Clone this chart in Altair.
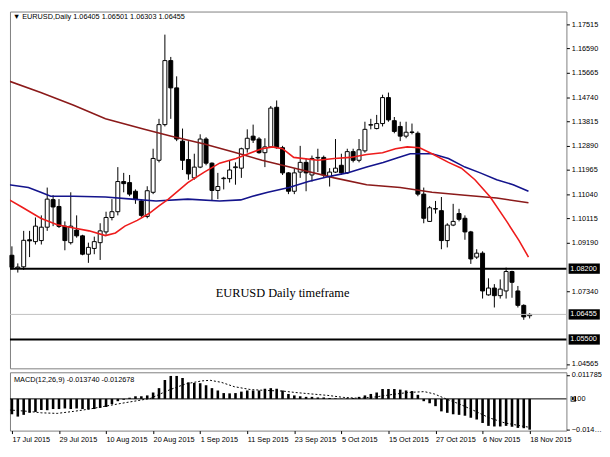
import json
import altair as alt
import pandas as pd

# ---------------- data ----------------
opens = [1.0871, 1.0822, 1.0827, 1.0930, 1.0923, 1.0927, 1.0978, 1.1083, 1.1057, 1.0982,
         1.0919, 1.0967, 1.0945, 1.0875, 1.0897, 1.0919, 1.0960, 1.1015, 1.1037, 1.1152,
         1.1148, 1.1115, 1.1078, 1.1019, 1.1111, 1.1233, 1.1369, 1.1613, 1.1509, 1.1306,
         1.1236, 1.1166, 1.1207, 1.1314, 1.1222, 1.1118, 1.1163, 1.1163, 1.1205, 1.1203,
         1.1277, 1.1325, 1.1314, 1.1262, 1.1284, 1.1435, 1.1281, 1.1185, 1.1115, 1.1188,
         1.1225, 1.1177, 1.1242, 1.1244, 1.1170, 1.1188, 1.1214, 1.1185, 1.1266, 1.1233,
         1.1269, 1.1367, 1.1354, 1.1373, 1.1472, 1.1384, 1.1362, 1.1325, 1.1339, 1.1336,
         1.1104, 1.1000, 1.1047, 1.1041, 1.0927, 1.0986, 1.1030, 1.1012, 1.0960, 1.0864,
         1.0879, 1.0720, 1.0746, 1.0717, 1.0735, 1.0809, 1.0735, 1.0680, 1.06405]
highs = [1.0905, 1.0840, 1.0964, 1.0964, 1.1015, 1.1023, 1.1129, 1.1100, 1.1085, 1.1000,
         1.1111, 1.1023, 1.0949, 1.0919, 1.0942, 1.0993, 1.1037, 1.1085, 1.1207, 1.1185,
         1.1177, 1.1122, 1.1085, 1.1134, 1.1277, 1.1391, 1.1712, 1.1627, 1.1553, 1.1354,
         1.1306, 1.1258, 1.1332, 1.1321, 1.1225, 1.1185, 1.1170, 1.1233, 1.1225, 1.1281,
         1.1351, 1.1369, 1.1321, 1.1317, 1.1440, 1.1461, 1.1288, 1.1188, 1.1203, 1.1288,
         1.1240, 1.1251, 1.1277, 1.1251, 1.1203, 1.1314, 1.1258, 1.1277, 1.1277, 1.1314,
         1.1380, 1.1391, 1.1406, 1.1483, 1.1491, 1.1398, 1.1380, 1.1380, 1.1373, 1.1343,
         1.1129, 1.1059, 1.1078, 1.1093, 1.0993, 1.1067, 1.1048, 1.1023, 1.0964, 1.0894,
         1.0886, 1.0783, 1.0761, 1.0779, 1.0824, 1.0812, 1.0754, 1.0684, 1.06501]
lows = [1.0816, 1.0805, 1.0815, 1.0864, 1.0912, 1.0912, 1.0964, 1.0982, 1.0975, 1.0890,
        1.0912, 1.0938, 1.0871, 1.0842, 1.0875, 1.0853, 1.0949, 1.1004, 1.1023, 1.1111,
        1.1096, 1.1067, 1.1015, 1.1012, 1.1104, 1.1225, 1.1362, 1.1391, 1.1306, 1.1196,
        1.1159, 1.1159, 1.1203, 1.1214, 1.1078, 1.1085, 1.1122, 1.1148, 1.1140, 1.1166,
        1.1262, 1.1299, 1.1258, 1.1207, 1.1281, 1.1277, 1.1177, 1.1104, 1.1104, 1.1166,
        1.1115, 1.1152, 1.1188, 1.1166, 1.1133, 1.1185, 1.1177, 1.1181, 1.1225, 1.1225,
        1.1262, 1.1351, 1.1351, 1.1362, 1.1380, 1.1336, 1.1306, 1.1317, 1.1332, 1.1096,
        1.0993, 1.0998, 1.1030, 1.0894, 1.0901, 1.0982, 1.1000, 1.0930, 1.0838, 1.0857,
        1.0706, 1.0717, 1.0672, 1.0706, 1.0706, 1.0709, 1.0672, 1.0625, 1.06303]
closes = [1.0825, 1.0826, 1.0928, 1.0926, 1.0982, 1.0978, 1.1085, 1.1055, 1.0981, 1.0927,
          1.0982, 1.0945, 1.0875, 1.0901, 1.0923, 1.0964, 1.1015, 1.1037, 1.1152, 1.1144,
          1.1104, 1.1085, 1.1023, 1.1117, 1.1240, 1.1369, 1.1613, 1.1509, 1.1314, 1.1233,
          1.1181, 1.1207, 1.1314, 1.1222, 1.1118, 1.1133, 1.1165, 1.1196, 1.1208, 1.1277,
          1.1317, 1.1310, 1.1262, 1.1284, 1.1432, 1.1281, 1.1185, 1.1115, 1.1185, 1.1225,
          1.1185, 1.1240, 1.1244, 1.1177, 1.1188, 1.1203, 1.1185, 1.1266, 1.1233, 1.1273,
          1.1351, 1.1369, 1.1373, 1.1472, 1.1387, 1.1343, 1.1325, 1.1340, 1.1341, 1.1104,
          1.1012, 1.1052, 1.1049, 1.0927, 1.0986, 1.1000, 1.1008, 1.0960, 1.0857, 1.0879,
          1.0735, 1.0746, 1.0717, 1.0742, 1.0809, 1.0768, 1.0680, 1.0636, 1.06455]

# moving averages (bar position, price)
red_i = [-0.5, 1.6, 4.9, 7.7, 10.5, 13.1, 15.9, 17.6, 19.2, 21.3, 23.3, 25, 26.6, 29.9, 32.7,
         35.3, 38.1, 40.2, 42.5, 44.3, 46, 47.9, 52, 54.8, 57.5, 60.3, 63, 65.2, 67.2, 69.3,
         71.4, 74.2, 76.4, 78.7, 81.3, 84.1, 86.2, 87.8]
red_p = [1.1083, 1.1056, 1.1012, 1.0987, 1.0975, 1.0964, 1.0946, 1.0956, 1.0982, 1.1004,
         1.1030, 1.1059, 1.1085, 1.1148, 1.1188, 1.1222, 1.1240, 1.1258, 1.1277, 1.1284,
         1.1277, 1.1244, 1.1233, 1.1240, 1.1244, 1.1255, 1.1262, 1.1277, 1.1284, 1.1281,
         1.1258, 1.1225, 1.1203, 1.1159, 1.1093, 1.1000, 1.0927, 1.0864]
blue_i = [-0.5, 2.8, 4.9, 6.6, 10.5, 15.9, 20.4, 24.5, 29.9, 35.3, 38.9, 40.9, 43.5, 47.1,
          50.4, 53.7, 57, 60.3, 63.1, 65.7, 67.7, 71.4, 74.2, 77, 79.6, 82.4, 85.2, 87.8]
blue_p = [1.1140, 1.1129, 1.1111, 1.1096, 1.1096, 1.1093, 1.1085, 1.1078, 1.1085, 1.1078,
          1.1082, 1.1096, 1.1111, 1.1129, 1.1152, 1.1170, 1.1185, 1.1207, 1.1225, 1.1244,
          1.1258, 1.1258, 1.1240, 1.1207, 1.1185, 1.1159, 1.1140, 1.1115]
maroon_i = [-0.5, 4.9, 10.5, 15.9, 22.5, 27.1, 32.7, 38.1, 42.5, 49.3, 54.8, 60.3, 66, 71.4,
            77, 82.4, 87.8]
maroon_p = [1.1535, 1.1491, 1.1443, 1.1391, 1.1351, 1.1325, 1.1295, 1.1262, 1.1233, 1.1196,
            1.1166, 1.1140, 1.1129, 1.1111, 1.1100, 1.1089, 1.1071]

# MACD histogram per bar and dotted signal line
macd = [-0.00752, -0.00865, -0.00780, -0.00681, -0.00638, -0.00539, -0.00553, -0.00496, -0.00496, -0.00468,
        -0.00496, -0.00468, -0.00496, -0.00511, -0.00496, -0.00440, -0.00397, -0.00255, -0.00113, -0.00043,
        0.00057, 0.00128, 0.00128, 0.00170, 0.00312, 0.00525, 0.00922, 0.01121, 0.01121, 0.01021,
        0.00809, 0.00780, 0.00766, 0.00667, 0.00525, 0.00411, 0.00284, 0.00270, 0.00284, 0.00355,
        0.00411, 0.00411, 0.00411, 0.00496, 0.00525, 0.00496, 0.00411, 0.00241, 0.00170, 0.00128,
        0.00099, 0.00099, 0.00071, 0.00071, 0.00043, 0.00028, 0.00014, 0.00028, 0.00043, 0.00099,
        0.00170, 0.00241, 0.00312, 0.00482, 0.00482, 0.00482, 0.00454, 0.00411, 0.00383, 0.00199,
        -0.00113, -0.00213, -0.00355, -0.00610, -0.00681, -0.00752, -0.00780, -0.00823, -0.00922, -0.01007,
        -0.01177, -0.01319, -0.01348, -0.01348, -0.01319, -0.01362, -0.01418, -0.01433, -0.01504]
sig_i = [-0.5, 2.8, 5, 7.7, 10.5, 13.2, 15.9, 18.7, 21.4, 23.6, 25.2, 26.9, 29.6, 32.3, 33.7,
         35.6, 37.8, 40.6, 43.3, 46, 48.2, 50.9, 53.7, 56.4, 59.1, 61.9, 64.6, 67.3, 70.1, 71.8,
         73.9, 76.1, 78.3, 81.1, 83.8, 86.5, 88]
sig_v = [-0.00539, -0.00610, -0.00681, -0.00709, -0.00610, -0.00496, -0.00355, -0.00213, -0.00085,
         0.00028, 0.00241, 0.00454, 0.00738, 0.00879, 0.00908, 0.00809, 0.00596, 0.00454, 0.00411,
         0.00383, 0.00312, 0.00241, 0.00170, 0.00071, 0.00028, 0.00099, 0.00213, 0.00312, 0.00355,
         0.00241, -0.00014, -0.00255, -0.00539, -0.00922, -0.01177, -0.01319, -0.01390]

date_labels = ["17 Jul 2015", "29 Jul 2015", "10 Aug 2015", "20 Aug 2015", "1 Sep 2015",
               "11 Sep 2015", "23 Sep 2015", "5 Oct 2015", "15 Oct 2015", "27 Oct 2015",
               "6 Nov 2015", "18 Nov 2015"]
date_pos = [0, 8, 16, 24, 32, 40, 48, 56, 64, 72, 80, 88]
price_ticks = [1.17515, 1.16590, 1.15665, 1.14740, 1.13815, 1.12890, 1.11965, 1.11040,
               1.10115, 1.09190, 1.07340, 1.04565]
level_lines = [1.08200, 1.05500]
level_labels = ["1.08200", "1.05500"]
current_price = 1.06455
current_label = "1.06455"
macd_ticks = [0.011785, -0.014955]

header = "\u25BC EURUSD,Daily  1.06405 1.06501 1.06303 1.06455"
macd_header = "MACD(12,26,9) -0.013740 -0.012678"
caption = "EURUSD Daily timeframe"

# ---------------- chart ----------------
W = 563
H1 = 361
H2 = 59
FONT = "Liberation Sans"
FS = 7.4
XD = [-0.33, 94.25]

xs = alt.Scale(domain=XD, nice=False, zero=False, padding=0)
ys = alt.Scale(domain=[1.0440, 1.1800], nice=False, zero=False, padding=0)
ms = alt.Scale(domain=[-0.0155, 0.0130], nice=False, zero=False, padding=0)

cd = pd.DataFrame({"i": list(range(len(opens))), "o": opens, "h": highs, "l": lows, "c": closes})

price_axis = alt.Axis(orient="right", values=price_ticks, format=".5f", title=None, grid=False,
                      domain=False, tickSize=3, tickColor="#000000", labelFont=FONT,
                      labelFontSize=FS, labelColor="#000000", labelPadding=2, labelOverlap=False,
                      labelLimit=40)
x_axis = alt.Axis(values=date_pos, labelExpr=json.dumps(date_labels) + "[round(datum.value / 8)]",
                  title=None, grid=False, domain=False,
                  tickSize=3, tickColor="#000000", labelAlign="left", labelFont=FONT,
                  labelFontSize=FS, labelColor="#000000", labelPadding=2, labelOverlap=False,
                  labelFlush=False)
macd_axis = alt.Axis(orient="right", values=macd_ticks, format=".6f", title=None, grid=False,
                     domain=False, tickSize=3, tickColor="#000000", labelFont=FONT,
                     labelFontSize=FS, labelColor="#000000", labelPadding=2, labelOverlap=False,
                     labelLimit=31)


def PX(field):
    return alt.X(field, scale=xs, axis=None)


def PY(field):
    return alt.Y(field, scale=ys, axis=price_axis)


def MX(field):
    return alt.X(field, scale=xs, axis=x_axis)


def MY(field):
    return alt.Y(field, scale=ms, axis=macd_axis)


wicks = alt.Chart(cd).mark_rule(color="black", strokeWidth=1).encode(
    x=PX("i:Q"), y=PY("l:Q"), y2="h:Q")
bodies = alt.Chart(cd).mark_bar(size=4, stroke="black", strokeWidth=1).encode(
    x=PX("i:Q"), y=PY("o:Q"), y2="c:Q",
    fill=alt.condition("datum.c >= datum.o", alt.value("white"), alt.value("black")))


def ma_line(ii, pp, color):
    return alt.Chart(pd.DataFrame({"i": ii, "p": pp})).mark_line(
        color=color, strokeWidth=1.6, clip=True).encode(x=PX("i:Q"), y=PY("p:Q"))


maroon = ma_line(maroon_i, maroon_p, "#8b1a1a")
blue = ma_line(blue_i, blue_p, "#14148c")
red = ma_line(red_i, red_p, "#ee1c1c")

levels = alt.Chart(pd.DataFrame({"p": level_lines})).mark_rule(color="black", strokeWidth=2).encode(
    y=PY("p:Q"))
cur = alt.Chart(pd.DataFrame({"p": [current_price]})).mark_rule(color="#c0c0c0", strokeWidth=1).encode(
    y=PY("p:Q"))

tags_df = pd.DataFrame({"p": level_lines + [current_price], "lab": level_labels + [current_label]})
tag_box = alt.Chart(tags_df).mark_point(
    shape="M-1,-0.33L1,-0.33L1,0.33L-1,0.33Z", size=1000, filled=True, color="black",
    opacity=1, strokeWidth=0).encode(x=alt.value(W + 18), y=PY("p:Q"))
tag_txt = alt.Chart(tags_df).mark_text(align="left", baseline="middle", color="white",
                                      font=FONT, fontSize=FS).encode(
    x=alt.value(W + 4), y=PY("p:Q"), text="lab:N")

head = alt.Chart(pd.DataFrame({"t": [header]})).mark_text(
    align="left", baseline="middle", font=FONT, fontSize=FS, color="black").encode(
    x=alt.value(3), y=alt.value(6), text="t:N")
cap = alt.Chart(pd.DataFrame({"i": [46], "p": [1.0728], "t": [caption]})).mark_text(
    align="center", baseline="middle", font="Liberation Serif", fontSize=12.5, color="black").encode(
    x=PX("i:Q"), y=PY("p:Q"), text="t:N")

main = alt.layer(wicks, bodies, maroon, blue, red, cur, levels, tag_box, tag_txt, head, cap).properties(
    width=W, height=H1)

md = pd.DataFrame({"i": list(range(len(macd))), "m": macd})
hist = alt.Chart(md).mark_bar(size=2.6, color="black").encode(x=MX("i:Q"), y=MY("m:Q"))
zero = alt.Chart(pd.DataFrame({"z": [0.0]})).mark_rule(color="black", strokeWidth=1).encode(
    y=MY("z:Q"))
sig = alt.Chart(pd.DataFrame({"i": sig_i, "v": sig_v})).mark_line(
    color="black", strokeWidth=1, strokeDash=[2, 2], clip=True).encode(x=MX("i:Q"), y=MY("v:Q"))
zbox = alt.Chart(pd.DataFrame({"z": [0.0]})).mark_point(
    shape="M-1,-1L1,-1L1,1L-1,1Z", size=30, filled=True, color="black", opacity=1,
    strokeWidth=0).encode(x=alt.value(W + 7), y=MY("z:Q"))
z0 = alt.Chart(pd.DataFrame({"z": [0.0], "t": ["0"]})).mark_text(
    align="left", baseline="middle", font=FONT, fontSize=FS, color="white").encode(
    x=alt.value(W + 4.5), y=MY("z:Q"), text="t:N")
z1 = alt.Chart(pd.DataFrame({"z": [0.0], "t": [".00"]})).mark_text(
    align="left", baseline="middle", font=FONT, fontSize=FS, color="black").encode(
    x=alt.value(W + 9), y=MY("z:Q"), text="t:N")
mhead = alt.Chart(pd.DataFrame({"t": [macd_header]})).mark_text(
    align="left", baseline="middle", font=FONT, fontSize=FS, color="black").encode(
    x=alt.value(4), y=alt.value(8), text="t:N")

lower = alt.layer(hist, zero, sig, zbox, z0, z1, mhead).properties(width=W, height=H2)

chart = alt.vconcat(main, lower, spacing=1, padding=0, background="white").configure_view(
    stroke="#808080", strokeWidth=1).configure_axis(labelFont=FONT, labelOverlap=False)

chart.save("out.html", embed_options={"renderer": "svg", "actions": False})
